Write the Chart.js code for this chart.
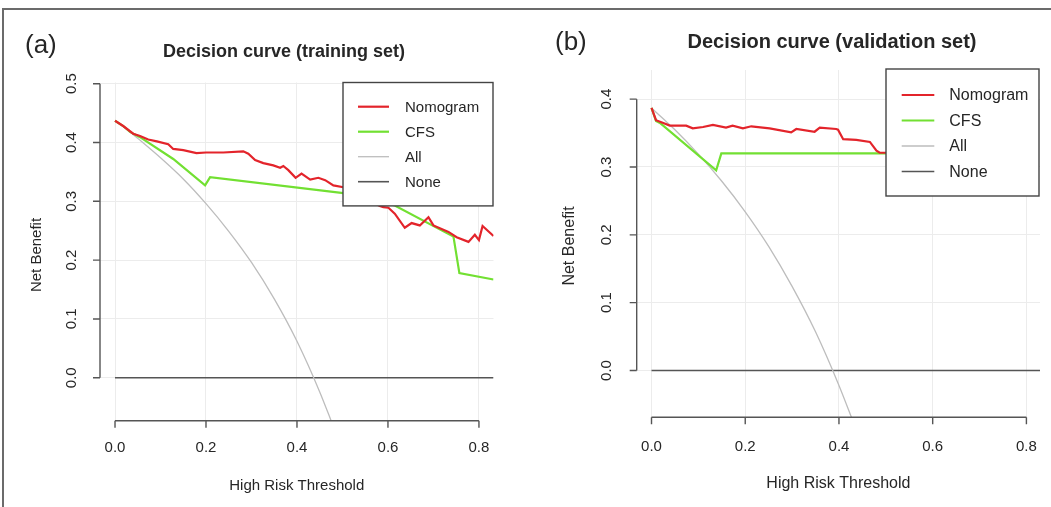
<!DOCTYPE html>
<html>
<head>
<meta charset="utf-8">
<script src="https://cdn.jsdelivr.net/npm/chart.js@4.4.1/dist/chart.umd.min.js"></script>
<style>
  html, body { margin: 0; padding: 0; background: #fff; width: 1051px; height: 507px; overflow: hidden; }
  #frame { position: absolute; left: 2px; top: 8px; width: 1100px; height: 600px;
           border-top: 2px solid #6b6b6b; border-left: 2px solid #6b6b6b; }
  canvas { position: absolute; top: 0; }
  #trainCanvas { left: 0; }
  #validCanvas { left: 525px; }
</style>
</head>
<body>
<div id="frame"></div>
<canvas id="trainCanvas" width="525" height="507"></canvas>
<canvas id="validCanvas" width="526" height="507"></canvas>
<script>
// --- DATA ---
const seriesNames = ['Nomogram', 'CFS', 'All', 'None'];

const xTickValues = [0, 0.2, 0.4, 0.6, 0.8];
const xTickLabels = ['0.0', '0.2', '0.4', '0.6', '0.8'];
const trainYTickValues = [0, 0.1, 0.2, 0.3, 0.4, 0.5];
const trainYTickLabels = ['0.0', '0.1', '0.2', '0.3', '0.4', '0.5'];
const validYTickValues = [0, 0.1, 0.2, 0.3, 0.4];
const validYTickLabels = ['0.0', '0.1', '0.2', '0.3', '0.4'];

// (a) training set
const trainNomX = [0, .018, .04, .055, .073, .092, .117, .128, .15, .179, .2, .238, .282, .293, .308, .326, .348, .363, .37, .381, .397, .41, .429, .447, .462, .48, .502, .54, .582, .59, .601, .615, .637, .652, .67, .689, .7, .733, .751, .777, .791, .8, .808, .832];
const trainNomY = [.437, .428, .415, .411, .405, .402, .397, .389, .387, .382, .383, .383, .385, .381, .37, .365, .361, .357, .36, .353, .34, .347, .337, .34, .336, .327, .324, .31, .292, .29, .289, .279, .255, .263, .259, .273, .259, .248, .239, .231, .243, .234, .258, .241];
const trainCfsX = [0, .018, .033, .055, .128, .198, .209, .502, .615, .744, .757, .832];
const trainCfsY = [.437, .428, .418, .409, .372, .327, .341, .314, .293, .24, .178, .167];
const trainAllX = [0, .025, .05, .1, .15, .2, .25, .3, .35, .4, .45, .48];
const trainAllY = [.437, .423, .407, .374, .338, .296, .249, .196, .134, .062, -.024, -.083];
const trainNoneX = [0, .832];
const trainNoneY = [0, 0];

// (b) validation set
const validNomX = [0, .0096, .021, .039, .074, .088, .11, .131, .159, .173, .195, .213, .252, .298, .309, .348, .359, .394, .398, .409, .437, .466, .48, .487, .55, .81];
const validNomY = [.387, .369, .366, .361, .361, .357, .359, .362, .358, .361, .357, .36, .357, .351, .356, .352, .358, .356, .355, .341, .34, .337, .324, .321, .321, .32];
const validCfsX = [0, .0096, .018, .138, .149, .81];
const validCfsY = [.387, .368, .365, .295, .32, .32];
const validAllX = [0, .025, .05, .1, .15, .2, .25, .3, .35, .4, .43];
const validAllY = [.387, .371, .355, .319, .279, .234, .183, .124, .057, -.022, -.075];
const validNoneX = [0, .83];
const validNoneY = [0, 0];

// --- STYLE ---
const FONT = '"Liberation Sans", Arial, sans-serif';
const RED = '#e3242b';
const GREEN = '#72e032';
const LIGHT = '#bdbdbd';
const DARK = '#555555';
const GRID = '#ececec';
const AXIS = '#555555';
const TEXT = '#262626';

const pts = (xs, ys) => xs.map((x, i) => ({ x: x, y: ys[i] }));

// R-style axes, labels, titles and boxed legend
function makeDecor(cfg) {
  return {
    id: 'rDecor',
    afterDraw(chart) {
      const { ctx, chartArea: a, scales } = chart;
      const xs = scales.x, ys = scales.y;
      ctx.save();

      // axis lines with outward ticks
      ctx.strokeStyle = AXIS;
      ctx.lineWidth = 1.4;
      ctx.beginPath();
      const xa = xs.getPixelForValue(xTickValues[0]);
      const xb = xs.getPixelForValue(xTickValues[xTickValues.length - 1]);
      ctx.moveTo(xa, a.bottom); ctx.lineTo(xb, a.bottom);
      xTickValues.forEach(v => {
        const p = xs.getPixelForValue(v);
        ctx.moveTo(p, a.bottom); ctx.lineTo(p, a.bottom + cfg.tickLen);
      });
      const ya = ys.getPixelForValue(cfg.yTicks[0]);
      const yb = ys.getPixelForValue(cfg.yTicks[cfg.yTicks.length - 1]);
      ctx.moveTo(a.left, ya); ctx.lineTo(a.left, yb);
      cfg.yTicks.forEach(v => {
        const p = ys.getPixelForValue(v);
        ctx.moveTo(a.left, p); ctx.lineTo(a.left - cfg.tickLen, p);
      });
      ctx.stroke();

      // tick labels
      ctx.fillStyle = TEXT;
      ctx.textAlign = 'center';
      ctx.textBaseline = 'middle';
      ctx.font = cfg.tickSize + 'px ' + FONT;
      xTickValues.forEach((v, i) => {
        ctx.fillText(xTickLabels[i], xs.getPixelForValue(v), a.bottom + cfg.xLabelGap);
      });
      cfg.yTicks.forEach((v, i) => {
        ctx.save();
        ctx.translate(a.left - cfg.yLabelGap, ys.getPixelForValue(v));
        ctx.rotate(-Math.PI / 2);
        ctx.fillText(cfg.yLabels[i], 0, 0);
        ctx.restore();
      });

      // axis titles
      ctx.font = cfg.axisTitleSize + 'px ' + FONT;
      ctx.fillText('High Risk Threshold', (a.left + a.right) / 2, cfg.xTitleY);
      ctx.save();
      ctx.translate(cfg.yTitleX, cfg.yTitleY);
      ctx.rotate(-Math.PI / 2);
      ctx.fillText('Net Benefit', 0, 0);
      ctx.restore();

      // main title and panel letter
      ctx.font = 'bold ' + cfg.titleSize + 'px ' + FONT;
      ctx.fillText(cfg.title, cfg.titleX, cfg.titleY);
      ctx.textAlign = 'left';
      ctx.font = cfg.panelSize + 'px ' + FONT;
      ctx.fillText(cfg.panel, cfg.panelX, cfg.panelY);

      // legend box
      const L = cfg.legend;
      const bx = a.right - L.w + L.dx, by = a.top + L.dy;
      ctx.fillStyle = '#fff';
      ctx.fillRect(bx, by, L.w, L.h);
      ctx.strokeStyle = '#444';
      ctx.lineWidth = 1.4;
      ctx.strokeRect(bx, by, L.w, L.h);
      ctx.font = L.size + 'px ' + FONT;
      ctx.textBaseline = 'middle';
      chart.data.datasets.forEach((ds, i) => {
        const ry = by + L.row0 + i * L.rowGap;
        ctx.strokeStyle = ds.borderColor;
        ctx.lineWidth = ds.borderWidth;
        ctx.beginPath();
        ctx.moveTo(bx + L.lineX0, ry); ctx.lineTo(bx + L.lineX1, ry);
        ctx.stroke();
        ctx.fillStyle = TEXT;
        ctx.fillText(ds.label, bx + L.textX, ry + 1);
      });

      ctx.restore();
    }
  };
}

function makeChart(canvasId, s, cfg) {
  return new Chart(document.getElementById(canvasId), {
    type: 'line',
    data: {
      datasets: [
        { label: seriesNames[0], data: pts(s.nomX, s.nomY), borderColor: RED, borderWidth: 2.2 },
        { label: seriesNames[1], data: pts(s.cfsX, s.cfsY), borderColor: GREEN, borderWidth: 2.2 },
        { label: seriesNames[2], data: pts(s.allX, s.allY), borderColor: LIGHT, borderWidth: 1.3, cubicInterpolationMode: 'monotone' },
        { label: seriesNames[3], data: pts(s.noneX, s.noneY), borderColor: DARK, borderWidth: 1.6 }
      ]
    },
    options: {
      responsive: false,
      animation: false,
      events: [],
      layout: { padding: { left: 0, right: cfg.padRight, top: cfg.padTop, bottom: 0 } },
      elements: { point: { radius: 0 }, line: { tension: 0, fill: false } },
      plugins: { legend: { display: false }, tooltip: { enabled: false }, title: { display: false } },
      scales: {
        x: {
          type: 'linear', min: cfg.xMin, max: cfg.xMax,
          afterBuildTicks: sc => { sc.ticks = xTickValues.map(v => ({ value: v })); },
          afterFit: sc => { sc.height = cfg.xAxisHeight; },
          grid: { color: GRID, lineWidth: 1, drawTicks: false },
          border: { display: false },
          ticks: { display: false }
        },
        y: {
          type: 'linear', min: cfg.yMin, max: cfg.yMax,
          afterBuildTicks: sc => { sc.ticks = cfg.yTicks.map(v => ({ value: v })); },
          afterFit: sc => { sc.width = cfg.yAxisWidth; },
          grid: { color: GRID, lineWidth: 1, drawTicks: false },
          border: { display: false },
          ticks: { display: false }
        }
      }
    },
    plugins: [makeDecor(cfg)]
  });
}

makeChart('trainCanvas',
  { nomX: trainNomX, nomY: trainNomY, cfsX: trainCfsX, cfsY: trainCfsY,
    allX: trainAllX, allY: trainAllY, noneX: trainNoneX, noneY: trainNoneY },
  { padTop: 82.5, padRight: 31.5, yAxisWidth: 100, xAxisHeight: 86.3,
    xMin: -0.033, xMax: 0.832, yMin: -0.073, yMax: 0.502,
    yTicks: trainYTickValues, yLabels: trainYTickLabels,
    tickLen: 7, xLabelGap: 27.3, yLabelGap: 28.3, tickSize: 15,
    axisTitleSize: 15, xTitleY: 486, yTitleX: 37, yTitleY: 255,
    title: 'Decision curve (training set)', titleSize: 18, titleX: 284, titleY: 52,
    panel: '(a)', panelX: 25, panelY: 46, panelSize: 26,
    legend: { w: 150, h: 123.4, dx: -0.5, dy: 0, row0: 24.2, rowGap: 25, lineX0: 15, lineX1: 46, textX: 62, size: 15 } });

makeChart('validCanvas',
  { nomX: validNomX, nomY: validNomY, cfsX: validCfsX, cfsY: validCfsY,
    allX: validAllX, allY: validAllY, noneX: validNoneX, noneY: validNoneY },
  { padTop: 70, padRight: 11, yAxisWidth: 111.7, xAxisHeight: 89.7,
    xMin: -0.0316, xMax: 0.829, yMin: -0.069, yMax: 0.443,
    yTicks: validYTickValues, yLabels: validYTickLabels,
    tickLen: 7, xLabelGap: 29.4, yLabelGap: 30, tickSize: 15,
    axisTitleSize: 16, xTitleY: 484, yTitleX: 45, yTitleY: 246,
    title: 'Decision curve (validation set)', titleSize: 20, titleX: 307, titleY: 42,
    panel: '(b)', panelX: 30, panelY: 43, panelSize: 26,
    legend: { w: 153, h: 127, dx: -1, dy: -1, row0: 26, rowGap: 25.5, lineX0: 15.7, lineX1: 48.3, textX: 63.3, size: 16 } });
</script>
</body>
</html>
